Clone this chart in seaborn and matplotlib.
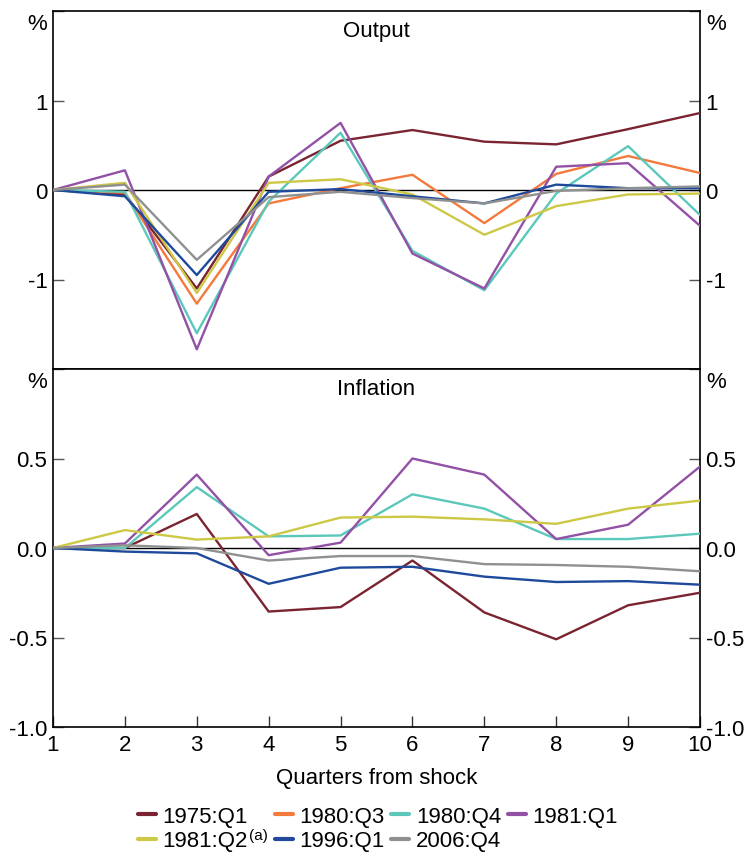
import numpy as np
import pandas as pd
import matplotlib
matplotlib.use("Agg")
import matplotlib.pyplot as plt
from matplotlib.offsetbox import HPacker, TextArea
import seaborn as sns

quarters = list(range(1, 11))
series = ["1975:Q1", "1980:Q3", "1980:Q4", "1981:Q1", "1981:Q2", "1996:Q1", "2006:Q4"]
legend_labels = ["1975:Q1", "1980:Q3", "1980:Q4", "1981:Q1", "1981:Q2", "1996:Q1", "2006:Q4"]
footnote_series = "1981:Q2"
footnote_mark = "(a)"
colors = ["#7A2431", "#F37A3C", "#5CC8BB", "#9351A6", "#CDC845", "#1F4A9C", "#8F9090"]

output_1975Q1 = [0, -0.05, -1.10, 0.15, 0.55, 0.67, 0.54, 0.51, 0.68, 0.86]
output_1980Q3 = [0, -0.03, -1.27, -0.15, 0.02, 0.17, -0.37, 0.18, 0.38, 0.19]
output_1980Q4 = [0, -0.02, -1.60, -0.13, 0.64, -0.68, -1.12, -0.04, 0.49, -0.28]
output_1981Q1 = [0, 0.22, -1.78, 0.15, 0.75, -0.71, -1.10, 0.26, 0.30, -0.40]
output_1981Q2 = [0, 0.08, -1.15, 0.08, 0.12, -0.05, -0.50, -0.18, -0.05, -0.04]
output_1996Q1 = [0, -0.07, -0.95, -0.02, 0.01, -0.07, -0.15, 0.06, 0.02, 0.02]
output_2006Q4 = [0, 0.06, -0.78, -0.08, -0.02, -0.09, -0.15, -0.01, 0.02, 0.04]

infl_1975Q1 = [0, 0.0, 0.19, -0.355, -0.33, -0.07, -0.36, -0.51, -0.32, -0.25]
infl_1980Q3 = [np.nan] * 10  # not shown in the inflation panel
infl_1980Q4 = [0, 0.0, 0.34, 0.065, 0.07, 0.30, 0.22, 0.05, 0.05, 0.08]
infl_1981Q1 = [0, 0.025, 0.41, -0.04, 0.03, 0.50, 0.41, 0.05, 0.13, 0.455]
infl_1981Q2 = [0, 0.10, 0.047, 0.065, 0.17, 0.175, 0.16, 0.135, 0.22, 0.265]
infl_1996Q1 = [0, -0.02, -0.03, -0.20, -0.11, -0.105, -0.16, -0.19, -0.185, -0.205]
infl_2006Q4 = [0, 0.015, 0.0, -0.07, -0.045, -0.045, -0.09, -0.095, -0.105, -0.13]

output_vals = [output_1975Q1, output_1980Q3, output_1980Q4, output_1981Q1,
               output_1981Q2, output_1996Q1, output_2006Q4]
infl_vals = [infl_1975Q1, infl_1980Q3, infl_1980Q4, infl_1981Q1,
             infl_1981Q2, infl_1996Q1, infl_2006Q4]

def long_df(vals):
    rows = []
    for s, v in zip(series, vals):
        for q, y in zip(quarters, v):
            rows.append({"q": q, "v": y, "s": s})
    return pd.DataFrame(rows)

df_out = long_df(output_vals)
df_inf = long_df(infl_vals).dropna()

sns.set_theme(style="white")
plt.rcParams["font.family"] = ["Liberation Sans", "DejaVu Sans"]
plt.rcParams["text.color"] = "black"
plt.rcParams["axes.labelcolor"] = "black"

FS = 16
fig = plt.figure(figsize=(7.47, 8.54), dpi=100)
L, W = 53 / 747, 647 / 747
H = 358 / 854
ax1 = fig.add_axes([L, 1 - 370 / 854, W, H])
ax2 = fig.add_axes([L, 1 - 728 / 854, W, H])

palette = dict(zip(series, colors))

for ax, df, ylim, ticks, labels, title in [
    (ax1, df_out, (-2, 2), [-2, -1, 0, 1, 2], ["", "-1", "0", "1", ""], "Output"),
    (ax2, df_inf, (-1, 1), [-1, -0.5, 0, 0.5, 1], ["-1.0", "-0.5", "0.0", "0.5", ""], "Inflation"),
]:
    ax.axhline(0, color="black", lw=1.0, zorder=1)
    sns.lineplot(data=df, x="q", y="v", hue="s", hue_order=series, palette=palette,
                 lw=1.7, ax=ax, legend=False, zorder=3)
    ax.set_xlim(1, 10)
    ax.set_ylim(*ylim)
    ax.set_yticks(ticks)
    ax.set_yticklabels(labels)
    ax.set_xticks(quarters)
    ax.tick_params(axis="y", direction="in", length=8, width=1, color="#555555",
                   left=True, right=True, labelleft=True, labelright=True,
                   labelsize=FS, labelcolor="black", pad=4)
    ax.set_xlabel("")
    ax.set_ylabel("")
    for sp in ax.spines.values():
        sp.set_color("black")
        sp.set_linewidth(1.2)
    ax.text(0.5, 0.975, title, transform=ax.transAxes, ha="center", va="top", fontsize=FS)
    ax.text(-0.010, 0.995, "%", transform=ax.transAxes, ha="right", va="top", fontsize=FS)
    ax.text(1.010, 0.995, "%", transform=ax.transAxes, ha="left", va="top", fontsize=FS)

ax1.tick_params(axis="x", bottom=False, labelbottom=False)
ax2.tick_params(axis="x", direction="in", length=8, width=1, color="#333333",
                bottom=True, labelbottom=True, labelsize=FS, labelcolor="black", pad=5)
ax2.set_xticklabels([str(q) for q in quarters])
ax2.set_xlabel("Quarters from shock", fontsize=FS, labelpad=9)

handles = [plt.Line2D([], [], color=c, lw=3) for c in colors]
order = [0, 4, 1, 5, 2, 6, 3]
leg = fig.legend([handles[i] for i in order], [legend_labels[i] for i in order],
                 loc="upper center", ncol=4,
                 bbox_to_anchor=(0.506, 1 - 796 / 854), frameon=False, fontsize=FS,
                 handlelength=0.8, handletextpad=0.3, columnspacing=0.3,
                 labelspacing=0.15, borderpad=0.0)

# superscript footnote mark right after "1981:Q2", packed inside the legend entry
injected = False
try:
    for col in leg._legend_handle_box.get_children():
        for item in col.get_children():
            kids = item.get_children()
            for k, box in enumerate(kids):
                if isinstance(box, TextArea) and box.get_text() == footnote_series:
                    sup = TextArea(footnote_mark,
                                   textprops=dict(fontsize=11, color="black",
                                                  family=["Liberation Sans", "DejaVu Sans"]))
                    try:
                        sup._text.set_position((0, 7))  # raise as superscript
                    except Exception:
                        pass
                    newbox = HPacker(children=[box, sup], align="baseline", pad=0, sep=1)
                    newbox.set_figure(fig)
                    item._children[k] = newbox
                    injected = True
except Exception:
    injected = False

if not injected:
    fig.canvas.draw()
    renderer = fig.canvas.get_renderer()
    inv = fig.transFigure.inverted()
    for t in leg.get_texts():
        if t.get_text() == footnote_series:
            bb = t.get_window_extent(renderer)
            x1, y1 = inv.transform((bb.x1 + 1, bb.y1 - 1))
            fig.text(x1, y1, footnote_mark, ha="left", va="top", fontsize=11)

fig.savefig("out.png", dpi=100)
